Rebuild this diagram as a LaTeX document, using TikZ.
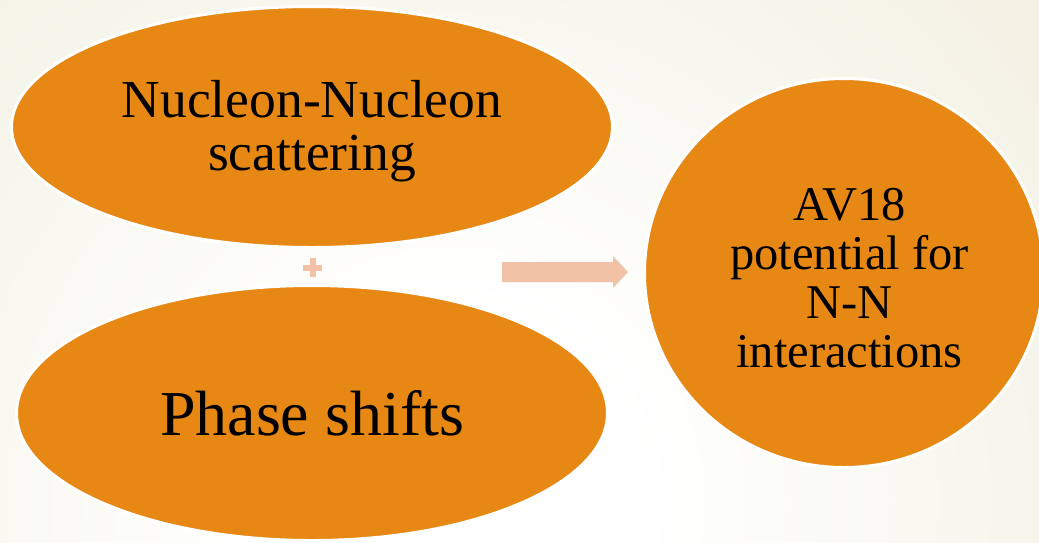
\documentclass[tikz,border=0pt]{standalone}
\usepackage{fontspec}
\setmainfont{Liberation Serif}
\usetikzlibrary{shapes.geometric}

\definecolor{cream}{RGB}{239,237,219}
\definecolor{blobfill}{RGB}{232,136,20}
\definecolor{peach}{RGB}{242,194,166}

% soft white glow fading into the cream page colour
\pgfdeclareradialshading{pageglow}{\pgfpoint{0bp}{0bp}}{%
  color(0bp)=(white); color(6bp)=(white); color(29bp)=(cream); color(50bp)=(cream)}

\tikzset{
  blob/.style={ellipse, fill=blobfill, draw=white, line width=3pt, inner sep=0pt},
  blobtext/.style={align=center, text=black, inner sep=0pt},
}

\begin{document}
\begin{tikzpicture}[x=1pt,y=-1pt]
  \useasboundingbox (0,0) rectangle (1039,542);

  % page background
  \fill[cream] (0,0) rectangle (1039,542);
  \begin{scope}
    \clip (0,0) rectangle (1039,542);
    \shade[shading=pageglow] (450,500) circle[radius=800];
  \end{scope}

  % the three blobs
  \node[blob, minimum width=601, minimum height=241] (scatter) at (312,127) {};
  \node[blob, minimum width=591, minimum height=255] (phase) at (312,413) {};
  \node[blob, minimum width=399, minimum height=389] (av18) at (844,273) {};

  % their captions
  \node[blobtext, font=\fontsize{53.5}{53}\selectfont]
    (scattertext) at ([yshift=-4]scatter.center) {Nucleon-Nucleon\\scattering};
  \node[blobtext, font=\fontsize{64}{64}\selectfont]
    (phasetext) at (phase.center) {Phase shifts};
  \node[blobtext, font=\fontsize{48.5}{49}\selectfont]
    (av18text) at ([xshift=5.5,yshift=-5]av18.center) {AV18\\potential for\\N-N\\interactions};

  % plus sign between the two inputs
  \coordinate (plus) at (312.5,267.5);
  \fill[peach] ([xshift=-9.5,yshift=-3]plus) rectangle ([xshift=9.5,yshift=3]plus);
  \fill[peach] ([xshift=-3,yshift=-9.5]plus) rectangle ([xshift=3,yshift=9.5]plus);

  % block arrow towards the result
  \coordinate (tail) at (502,272);
  \coordinate (tip) at (628,272);
  \fill[peach] ([yshift=-10]tail) -- ([xshift=-15,yshift=-10]tip)
    -- ([xshift=-15,yshift=-16]tip) -- (tip) -- ([xshift=-15,yshift=16]tip)
    -- ([xshift=-15,yshift=10]tip) -- ([yshift=10]tail) -- cycle;
\end{tikzpicture}
\end{document}
